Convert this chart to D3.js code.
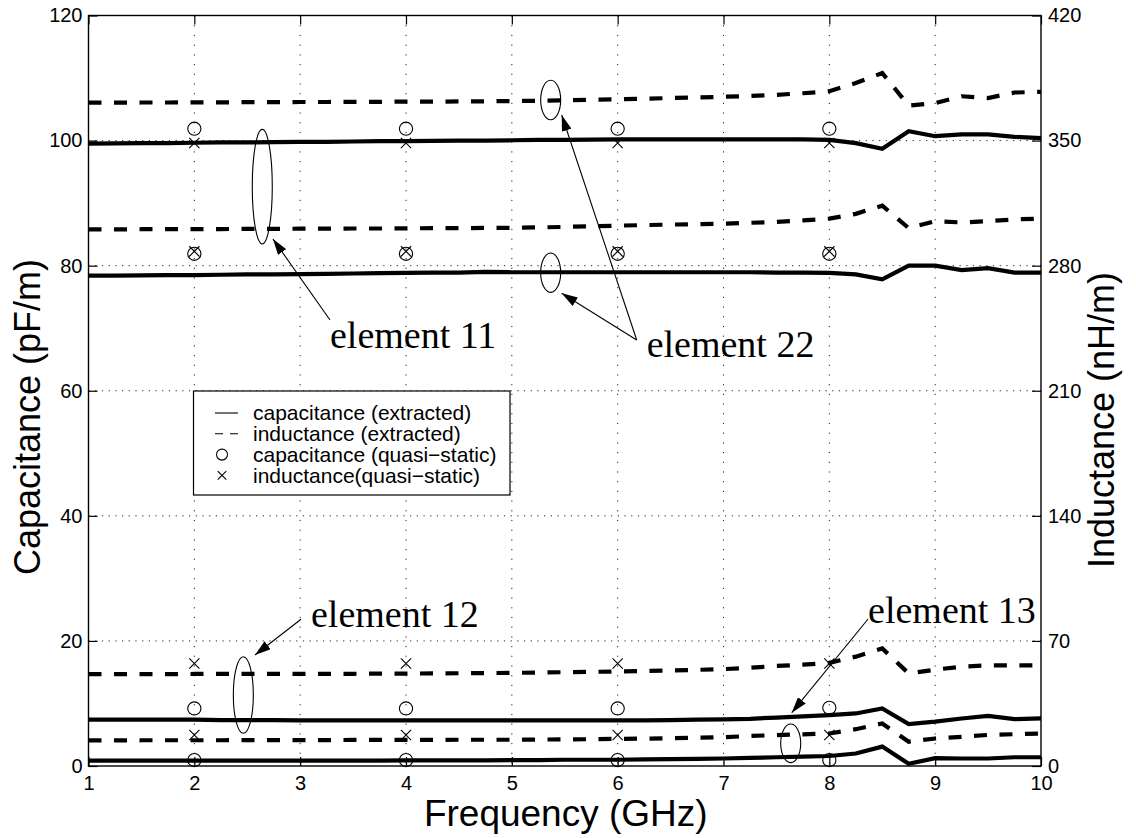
<!DOCTYPE html>
<html>
<head>
<meta charset="utf-8">
<script src="https://cdn.jsdelivr.net/npm/d3@7"></script>
<style>
  html, body { margin: 0; padding: 0; background: #fff; }
  svg { display: block; }
  .tick text { font-family: "Liberation Sans", Arial, Helvetica, sans-serif; font-size: 20px; fill: #000; }
</style>
</head>
<body>
<svg id="chart" width="1136" height="838"></svg>
<script>
// Frequency sweep (GHz)
const freq = [1, 1.25, 1.5, 1.75, 2, 2.25, 2.5, 2.75, 3, 3.25, 3.5, 3.75, 4, 4.25, 4.5, 4.75,
  5, 5.25, 5.5, 5.75, 6, 6.25, 6.5, 6.75, 7, 7.25, 7.5, 7.75, 8, 8.25, 8.5, 8.75,
  9, 9.25, 9.5, 9.75, 10];

// Extracted capacitance (pF/m)
const cap11 = [99.5, 99.55, 99.6, 99.6, 99.65, 99.7, 99.7, 99.75, 99.8, 99.8, 99.85, 99.9, 99.9, 99.95, 100.0, 100.0,
  100.05, 100.1, 100.1, 100.15, 100.2, 100.2, 100.2, 100.2, 100.2, 100.2, 100.2, 100.2, 100.1, 99.6, 98.7, 101.5,
  100.7, 101.0, 101.0, 100.6, 100.4];
const cap22 = [78.4, 78.42, 78.45, 78.48, 78.5, 78.55, 78.6, 78.62, 78.65, 78.7, 78.75, 78.8, 78.85, 78.88, 78.9, 79.0,
  78.95, 78.95, 78.95, 78.95, 78.95, 78.95, 78.95, 78.95, 78.95, 78.95, 78.9, 78.9, 78.85, 78.6, 77.8, 80.0,
  80.0, 79.3, 79.6, 78.9, 78.9];
const cap12 = [7.4, 7.4, 7.4, 7.4, 7.4, 7.35, 7.35, 7.35, 7.3, 7.3, 7.3, 7.3, 7.3, 7.3, 7.3, 7.3,
  7.3, 7.3, 7.3, 7.3, 7.3, 7.3, 7.35, 7.4, 7.45, 7.55, 7.75, 7.95, 8.15, 8.4, 9.2, 6.7,
  7.1, 7.6, 8.0, 7.5, 7.6];
const cap13 = [0.85, 0.85, 0.85, 0.85, 0.85, 0.85, 0.85, 0.85, 0.85, 0.85, 0.85, 0.85, 0.9, 0.9, 0.9, 0.9,
  0.95, 0.95, 1.0, 1.0, 1.0, 1.05, 1.1, 1.15, 1.2, 1.3, 1.4, 1.5, 1.6, 2.0, 3.1, 0.35,
  1.25, 1.2, 1.2, 1.4, 1.4];

// Extracted inductance (nH/m)
const ind22 = [371.2, 371.2, 371.3, 371.3, 371.4, 371.4, 371.5, 371.5, 371.6, 371.6, 371.7, 371.7, 371.8, 371.8, 371.9, 372.0,
  372.1, 372.3, 372.5, 372.8, 373.1, 373.4, 373.8, 374.1, 374.5, 375.0, 375.6, 376.5, 377.6, 382.2, 387.8, 369.6,
  371.0, 374.8, 373.8, 376.9, 377.3];
const ind11 = [300.3, 300.3, 300.4, 300.4, 300.5, 300.5, 300.6, 300.6, 300.7, 300.7, 300.8, 300.8, 300.9, 301.0, 301.0, 301.1,
  301.2, 301.4, 301.7, 302.0, 302.4, 302.7, 303.0, 303.2, 303.5, 304.0, 304.5, 305.3, 306.3, 309.0, 313.6, 301.0,
  304.9, 304.2, 304.9, 305.9, 306.3];
const ind12 = [51.4, 51.4, 51.4, 51.4, 51.5, 51.5, 51.5, 51.5, 51.5, 51.6, 51.6, 51.7, 51.7, 51.8, 51.9, 52.0,
  52.1, 52.3, 52.5, 52.7, 52.9, 53.2, 53.5, 53.8, 54.2, 55.0, 56.0, 56.7, 57.7, 61.2, 65.8, 51.8,
  53.9, 55.6, 56.3, 56.3, 56.3];
const ind13 = [14.3, 14.3, 14.4, 14.4, 14.4, 14.4, 14.5, 14.5, 14.5, 14.5, 14.6, 14.6, 14.6, 14.6, 14.7, 14.7,
  14.7, 14.8, 14.9, 15.0, 15.2, 15.3, 15.6, 15.8, 16.1, 16.8, 17.3, 17.7, 18.2, 20.6, 23.8, 13.6,
  15.4, 16.3, 17.4, 17.8, 18.2];

// Quasi-static values
const qsFreq = [2, 4, 6, 8];
const qsCap11 = [101.9, 101.9, 101.9, 101.9];
const qsCap22 = [81.9, 81.9, 81.9, 81.9];
const qsCap12 = [9.2, 9.2, 9.2, 9.3];
const qsCap13 = [0.95, 0.95, 0.95, 0.95];
const qsInd22 = [348.6, 348.6, 348.6, 348.6];
const qsInd11 = [288.0, 288.0, 288.0, 288.0];
const qsInd12 = [57.4, 57.4, 57.4, 57.4];
const qsInd13 = [17.4, 17.4, 17.4, 17.4];

// Axis ticks
const xTicks = [1, 2, 3, 4, 5, 6, 7, 8, 9, 10];
const capTicks = [0, 20, 40, 60, 80, 100, 120];
const indTicks = [0, 70, 140, 210, 280, 350, 420];

// Legend entries
const legendLabels = ["capacitance (extracted)", "inductance (extracted)",
  "capacitance (quasi\u2212static)", "inductance(quasi\u2212static)"];

// Callout labels: [text, text anchor (GHz, pF/m)], ellipses and arrows in the same units
const calloutText = ["element 11", "element 22", "element 12", "element 13"];
const calloutPos = [[3.282, 66.84], [6.274, 65.40], [3.102, 22.23], [8.366, 22.87]];
const ellipseCenters = [[2.642, 92.63], [5.367, 106.49], [5.367, 78.88], [2.463, 11.35], [7.635, 3.63]];
const ellipseHalfHeights = [9.16, 3.15, 3.15, 6.12, 3.09];
const arrowFrom = [[3.282, 71.31], [6.180, 68.12], [6.180, 68.12], [3.008, 23.46], [8.366, 23.50]];
const arrowTo = [[2.743, 84.27], [5.471, 104.09], [5.471, 75.58], [2.573, 17.75], [7.645, 8.52]];

const svg = d3.select("#chart");
const W = 1136, H = 838;
const plot = { left: 88.5, right: 1041, top: 15.5, bottom: 766 };

const x = d3.scaleLinear().domain([1, 10]).range([plot.left, plot.right]);
const yC = d3.scaleLinear().domain([0, 120]).range([plot.bottom, plot.top]);
const yL = d3.scaleLinear().domain([0, 420]).range([plot.bottom, plot.top]);

svg.append("rect").attr("width", W).attr("height", H).attr("fill", "#fff");

// Dotted grid
const grid = svg.append("g");
grid.selectAll("line.vg").data(xTicks.slice(1, -1)).join("line")
  .attr("x1", d => x(d)).attr("x2", d => x(d))
  .attr("y1", plot.top).attr("y2", plot.bottom)
  .attr("stroke", "#222").attr("stroke-width", 1).attr("stroke-dasharray", "1.2,8.5");
grid.selectAll("line.hg").data(capTicks.slice(1, -1)).join("line")
  .attr("x1", plot.left).attr("x2", plot.right)
  .attr("y1", d => yC(d)).attr("y2", d => yC(d))
  .attr("stroke", "#222").attr("stroke-width", 1).attr("stroke-dasharray", "1.2,5.5");

// Axes with inward ticks
const tickLen = 9;
const gx = svg.append("g").attr("transform", `translate(0,${plot.bottom})`)
  .call(d3.axisBottom(x).tickValues(xTicks).tickFormat(d3.format("d"))
    .tickSizeInner(-tickLen).tickSizeOuter(0).tickPadding(10));
const gxTop = svg.append("g").attr("transform", `translate(0,${plot.top})`)
  .call(d3.axisTop(x).tickValues(xTicks).tickFormat("").tickSizeInner(-tickLen).tickSizeOuter(0));
const gyL = svg.append("g").attr("transform", `translate(${plot.left},0)`)
  .call(d3.axisLeft(yC).tickValues(capTicks).tickFormat(d3.format("d"))
    .tickSizeInner(-tickLen).tickSizeOuter(0).tickPadding(6));
const gyR = svg.append("g").attr("transform", `translate(${plot.right},0)`)
  .call(d3.axisRight(yL).tickValues(indTicks).tickFormat(d3.format("d"))
    .tickSizeInner(-tickLen).tickSizeOuter(0).tickPadding(7));
[gx, gxTop, gyL, gyR].forEach(g => {
  g.select(".domain").remove();
  g.selectAll(".tick line").attr("stroke", "#000").attr("stroke-width", 1.2);
});

// Quasi-static markers
const markers = svg.append("g").attr("fill", "none").attr("stroke", "#000").attr("stroke-width", 1.1);
[qsCap11, qsCap22, qsCap12, qsCap13].forEach(vals => {
  markers.selectAll(null).data(qsFreq.map((f, i) => [f, vals[i]])).join("circle")
    .attr("cx", d => x(d[0])).attr("cy", d => yC(d[1])).attr("r", 6.6);
});
const crossSym = d3.symbol().type(d3.symbolX).size(70);
[qsInd22, qsInd11, qsInd12, qsInd13].forEach(vals => {
  markers.selectAll(null).data(qsFreq.map((f, i) => [f, vals[i]])).join("path")
    .attr("d", crossSym)
    .attr("transform", d => `translate(${x(d[0])},${yL(d[1])})`);
});

// Extracted curves
const capLine = d3.line().x((d, i) => x(freq[i])).y(d => yC(d));
const indLine = d3.line().x((d, i) => x(freq[i])).y(d => yL(d));
const curves = svg.append("g").attr("fill", "none").attr("stroke", "#000")
  .attr("stroke-width", 4.2).attr("stroke-linejoin", "miter");
[cap11, cap22, cap12, cap13].forEach(vals => {
  curves.append("path").attr("d", capLine(vals));
});
[ind22, ind11, ind12, ind13].forEach(vals => {
  curves.append("path").attr("d", indLine(vals)).attr("stroke-dasharray", "13,12.5");
});

// Plot frame
svg.append("rect")
  .attr("x", plot.left).attr("y", plot.top)
  .attr("width", plot.right - plot.left).attr("height", plot.bottom - plot.top)
  .attr("fill", "none").attr("stroke", "#000").attr("stroke-width", 1.4);

// Callout ellipses and arrows
const defs = svg.append("defs");
defs.append("marker").attr("id", "head")
  .attr("viewBox", "0 0 16 10").attr("refX", 16).attr("refY", 5)
  .attr("markerWidth", 16).attr("markerHeight", 10)
  .attr("markerUnits", "userSpaceOnUse").attr("orient", "auto")
  .append("path").attr("d", "M0,0 L16,5 L0,10 Z").attr("fill", "#000");

const notes = svg.append("g");
const pxRx = 10;
notes.selectAll("ellipse").data(ellipseCenters).join("ellipse")
  .attr("cx", d => x(d[0])).attr("cy", d => yC(d[1]))
  .attr("rx", pxRx)
  .attr("ry", (d, i) => yC(0) - yC(ellipseHalfHeights[i]))
  .attr("fill", "none").attr("stroke", "#000").attr("stroke-width", 1.1);
notes.selectAll("line").data(arrowFrom).join("line")
  .attr("x1", d => x(d[0])).attr("y1", d => yC(d[1]))
  .attr("x2", (d, i) => x(arrowTo[i][0])).attr("y2", (d, i) => yC(arrowTo[i][1]))
  .attr("stroke", "#000").attr("stroke-width", 1.1).attr("marker-end", "url(#head)");
notes.selectAll("text").data(calloutText).join("text")
  .attr("x", (d, i) => x(calloutPos[i][0])).attr("y", (d, i) => yC(calloutPos[i][1]))
  .attr("font-family", "'Liberation Serif', 'Times New Roman', Times, serif")
  .attr("font-size", 38).attr("fill", "#000")
  .text(d => d);

// Legend
const legend = svg.append("g");
const lg = { x: 193.5, y: 391, w: 316.5, h: 104 };
legend.append("rect").attr("x", lg.x).attr("y", lg.y).attr("width", lg.w).attr("height", lg.h)
  .attr("fill", "#fff").attr("stroke", "#000").attr("stroke-width", 1.2);
const rowY = i => lg.y + 22 + i * 20.8;
legendLabels.forEach((label, i) => {
  const cy = rowY(i);
  if (i === 0 || i === 1) {
    legend.append("line").attr("x1", 215).attr("x2", 238).attr("y1", cy).attr("y2", cy)
      .attr("stroke", "#000").attr("stroke-width", 1.1)
      .attr("stroke-dasharray", i === 1 ? "8,7" : null);
  } else if (i === 2) {
    legend.append("circle").attr("cx", 222).attr("cy", cy).attr("r", 5.5)
      .attr("fill", "none").attr("stroke", "#000").attr("stroke-width", 1.1);
  } else {
    legend.append("path").attr("d", d3.symbol().type(d3.symbolX).size(50))
      .attr("transform", `translate(222,${cy})`)
      .attr("fill", "none").attr("stroke", "#000").attr("stroke-width", 1.1);
  }
  legend.append("text").attr("x", 253).attr("y", cy).attr("dy", "0.35em")
    .attr("font-family", "'Liberation Sans', Arial, Helvetica, sans-serif")
    .attr("font-size", 21).attr("fill", "#000").text(label);
});

// Axis titles
const titleFont = "'Liberation Sans', Arial, Helvetica, sans-serif";
svg.append("text").attr("x", (plot.left + plot.right) / 2 + 1).attr("y", 826)
  .attr("text-anchor", "middle").attr("font-family", titleFont).attr("font-size", 37)
  .text("Frequency (GHz)");
svg.append("text").attr("transform", "translate(40,417) rotate(-90)")
  .attr("text-anchor", "middle").attr("font-family", titleFont).attr("font-size", 36)
  .text("Capacitance (pF/m)");
svg.append("text").attr("transform", "translate(1114,420) rotate(-90)")
  .attr("text-anchor", "middle").attr("font-family", titleFont).attr("font-size", 36)
  .text("Inductance (nH/m)");
</script>
</body>
</html>
